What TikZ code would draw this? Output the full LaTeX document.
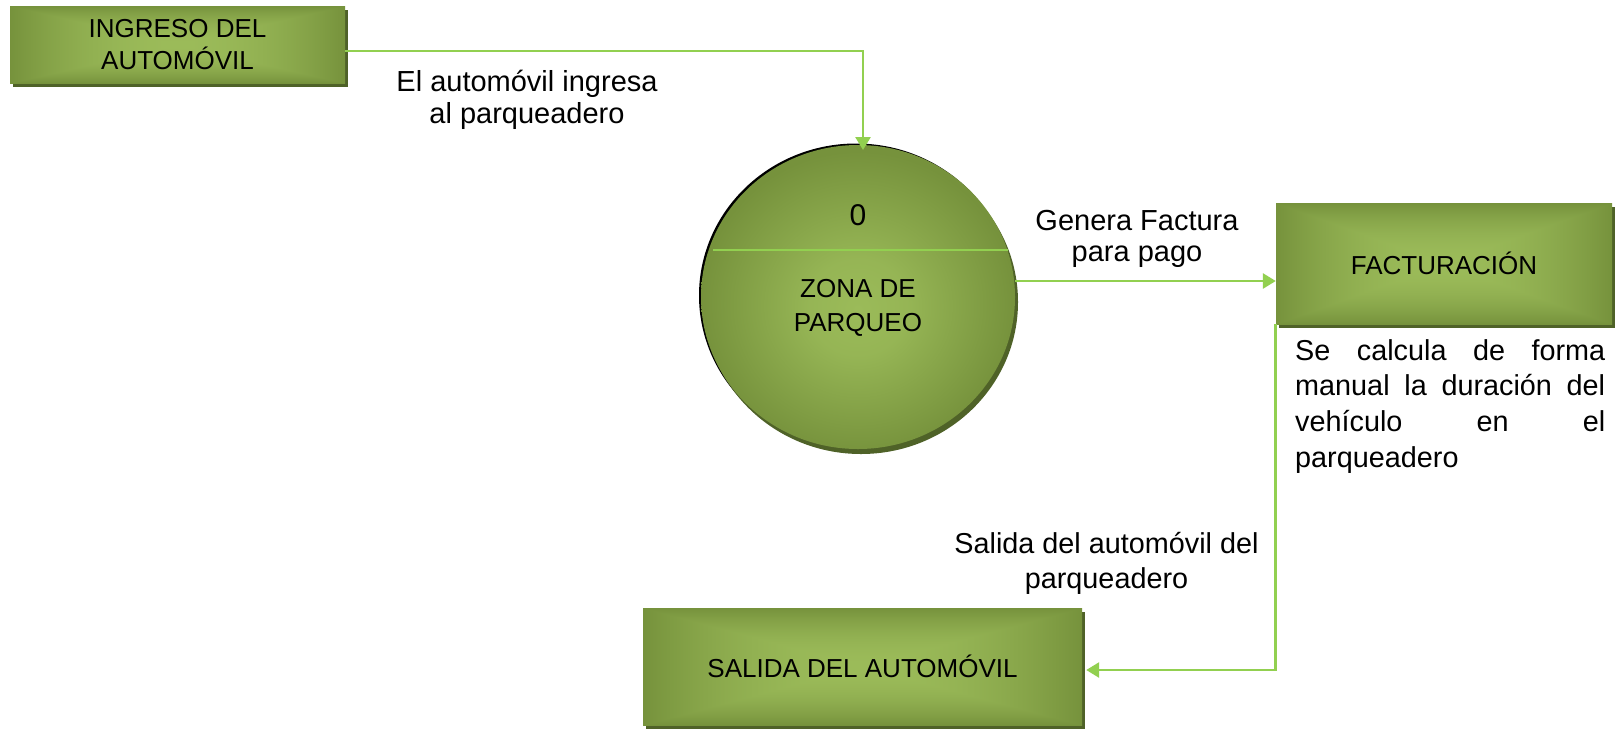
\documentclass[tikz,border=0pt]{standalone}
\usepackage{fontspec}
\setmainfont{Liberation Sans}
\usetikzlibrary{arrows.meta,shapes.geometric,shadows}
\definecolor{boxlight}{HTML}{9BBB59}
\definecolor{boxdark}{HTML}{76923C}
\definecolor{shadowgreen}{HTML}{4F6228}
\definecolor{flowgreen}{HTML}{92D050}
\pgfdeclarefunctionalshading{rectglow}{\pgfpoint{0bp}{0bp}}{\pgfpoint{100bp}{100bp}}{}{
 50 sub abs exch 50 sub abs 2 copy lt {exch} if pop 25 div dup 1 gt {pop 1} if
 dup mul
 dup dup -0.145 mul 0.608 add 3 1 roll -0.16 mul 0.733 add exch -0.114 mul 0.349 add
}
\pgfdeclareradialshading{circglow}{\pgfpoint{0bp}{-2bp}}{color(0bp)=(boxlight); color(8bp)=(boxlight!85!boxdark); color(25bp)=(boxdark); color(50bp)=(boxdark)}
\tikzset{
  procbox/.style={rectangle, shading=rectglow, inner sep=0pt, align=center,
    font=\fontsize{26}{32}\selectfont,
    drop shadow={shadow xshift=3pt, shadow yshift=-4pt, fill=shadowgreen, opacity=1}},
  procellipse/.style={ellipse, shading=circglow, inner sep=0pt,
    general shadow={shadow xshift=-2pt, shadow yshift=1.5pt, fill=black, opacity=1},
    drop shadow={shadow xshift=3pt, shadow yshift=-5pt, fill=shadowgreen, opacity=1}},
  flow/.style={draw=flowgreen, line width=2.7pt, -{Triangle[length=13pt,width=15pt]}},
  lbl/.style={inner sep=0pt, align=center, font=\fontsize{29}{31.5}\selectfont},
}
\begin{document}
\begin{tikzpicture}[x=1pt,y=-1pt]
\useasboundingbox (0,0) rectangle (1621,729);
\fill[white] (0,0) rectangle (1621,729);

\node[procbox, minimum width=335pt, minimum height=77pt] (ingreso) at (177.5,44.5) {INGRESO DEL\\AUTOMÓVIL};
\node[procellipse, minimum width=314pt, minimum height=304pt] (zona) at (858,297) {};
\node[procbox, minimum width=336pt, minimum height=121pt] (fact) at (1444,263.5) {FACTURACIÓN};
\node[procbox, minimum width=439pt, minimum height=117pt] (salida) at (862.5,666.5) {SALIDA DEL AUTOMÓVIL};

\draw[flowgreen, line width=2pt] (713,250) -- (1008,250);
\node[inner sep=0pt, font=\fontsize{30}{34}\selectfont] (cero) at (858,215) {0};
\node[inner sep=0pt, align=center, font=\fontsize{26}{34}\selectfont] (zonatxt) at (858,308) {ZONA DE\\PARQUEO};

\coordinate (zonatop) at (863,150);
\draw[flow] ([yshift=-6.5pt]ingreso.east) -| (zonatop);
\draw[flow] ([yshift=16pt]zona.east) -- ([yshift=-17.5pt]fact.west);
\draw[flow] (fact.south west) |- ([xshift=4pt,yshift=-3.5pt]salida.east);

\node[lbl] (l1) at (527,100) {El automóvil ingresa\\al parqueadero};
\node[lbl] (l2) at (1137,239) {Genera Factura\\para pago};
\node[lbl, anchor=north west, align=left, font=\fontsize{28.8}{35.7}\selectfont] (l3) at (1295,339)
  {\makebox[310pt][s]{Se calcula de forma}\\\makebox[310pt][s]{manual la duración del}\\\makebox[310pt][s]{vehículo en el}\\parqueadero};
\node[lbl, font=\fontsize{28.8}{35}\selectfont] (l4) at (1106.5,563) {Salida del automóvil del\\parqueadero};
\end{tikzpicture}
\end{document}
